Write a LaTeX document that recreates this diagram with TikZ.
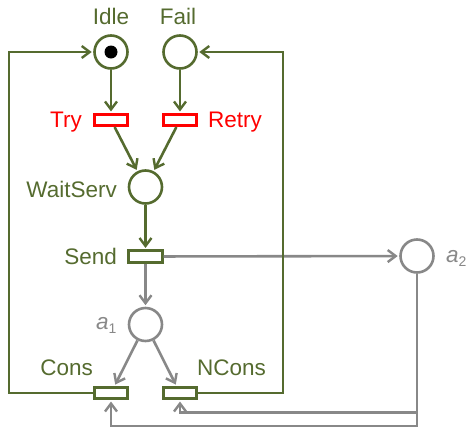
\documentclass[tikz,border=0pt]{standalone}
\usepackage{fontspec}
\setmainfont{Liberation Sans}
\usetikzlibrary{arrows.meta}
\definecolor{pgreen}{RGB}{85,107,47}
\definecolor{pgray}{RGB}{136,136,136}
\begin{document}
\begin{tikzpicture}[x=1pt,y=-1pt,
 place/.style={circle,draw,line width=2.6pt,minimum size=33pt,inner sep=0pt},
 trans/.style={rectangle,draw,line width=2.6pt,minimum width=33.5pt,minimum height=11.5pt,inner sep=0pt},
 lbl/.style={inner sep=0pt,font=\fontsize{22.5}{26}\selectfont},
 arc/.style={line width=2.6pt,-{Straight Barb[length=8pt,width=12pt,line width=2.4pt]},shorten >=1.5pt},
]
\useasboundingbox (0,0) rectangle (466,426);
% places
\node[place,pgreen] (Idle) at (111,52) {};
\node[place,pgreen] (Fail) at (180,52) {};
\node[place,pgreen] (WaitServ) at (145.5,187) {};
\node[place,pgray] (a1) at (145.5,324.5) {};
\node[place,pgray] (a2) at (417,256) {};
\fill (Idle.center) circle (6.5pt);
% transitions
\node[trans,red] (Try) at (111,120) {};
\node[trans,red] (Retry) at (180,120) {};
\node[trans,pgreen] (Send) at (145.5,256.5) {};
\node[trans,pgreen] (Cons) at (111,393) {};
\node[trans,pgreen] (NCons) at (180,393) {};
% labels
\node[lbl,pgreen,anchor=base] (lIdle) at (111,24) {Idle};
\node[lbl,pgreen,anchor=base] (lFail) at (178,24) {Fail};
\node[lbl,red,anchor=base east] (lTry) at (82,127) {Try};
\node[lbl,red,anchor=base west] (lRetry) at (208,127) {Retry};
\node[lbl,pgreen,anchor=base east] (lWait) at (117,197) {WaitServ};
\node[lbl,pgreen,anchor=base east] (lSend) at (117,264) {Send};
\node[lbl,pgreen,anchor=base east] (lCons) at (93,375) {Cons};
\node[lbl,pgreen,anchor=base west] (lNCons) at (197,375) {NCons};
\node[lbl,pgray,anchor=base west] (la1) at (96,329) {\textit{a}\raisebox{-0.35ex}{\fontsize{14}{14}\selectfont 1}};
\node[lbl,pgray,anchor=base west] (la2) at (446,262) {\textit{a}\raisebox{-0.35ex}{\fontsize{14}{14}\selectfont 2}};
% gray arcs
\draw[arc,pgray] (Send) -- (a2);
\draw[arc,pgray] (Send) -- (a1);
\draw[arc,pgray] (a1) -- (Cons);
\draw[arc,pgray] (a1) -- (NCons);
\draw[arc,pgray] (a2.south) -- ++(0,138.5) -| (NCons);
\draw[arc,pgray] (a2.south) -- ++(0,152.5) -| (Cons);
% green arcs
\draw[arc,pgreen] (Idle) -- (Try);
\draw[arc,pgreen] (Fail) -- (Retry);
\draw[arc,pgreen] (Try) -- (WaitServ);
\draw[arc,pgreen] (Retry) -- (WaitServ);
\draw[arc,pgreen] (WaitServ) -- (Send);
\draw[arc,pgreen] (Cons.west) -- ++(-84,0) |- (Idle);
\draw[arc,pgreen] (NCons.east) -- ++(85,0) |- (Fail);
\end{tikzpicture}
\end{document}
